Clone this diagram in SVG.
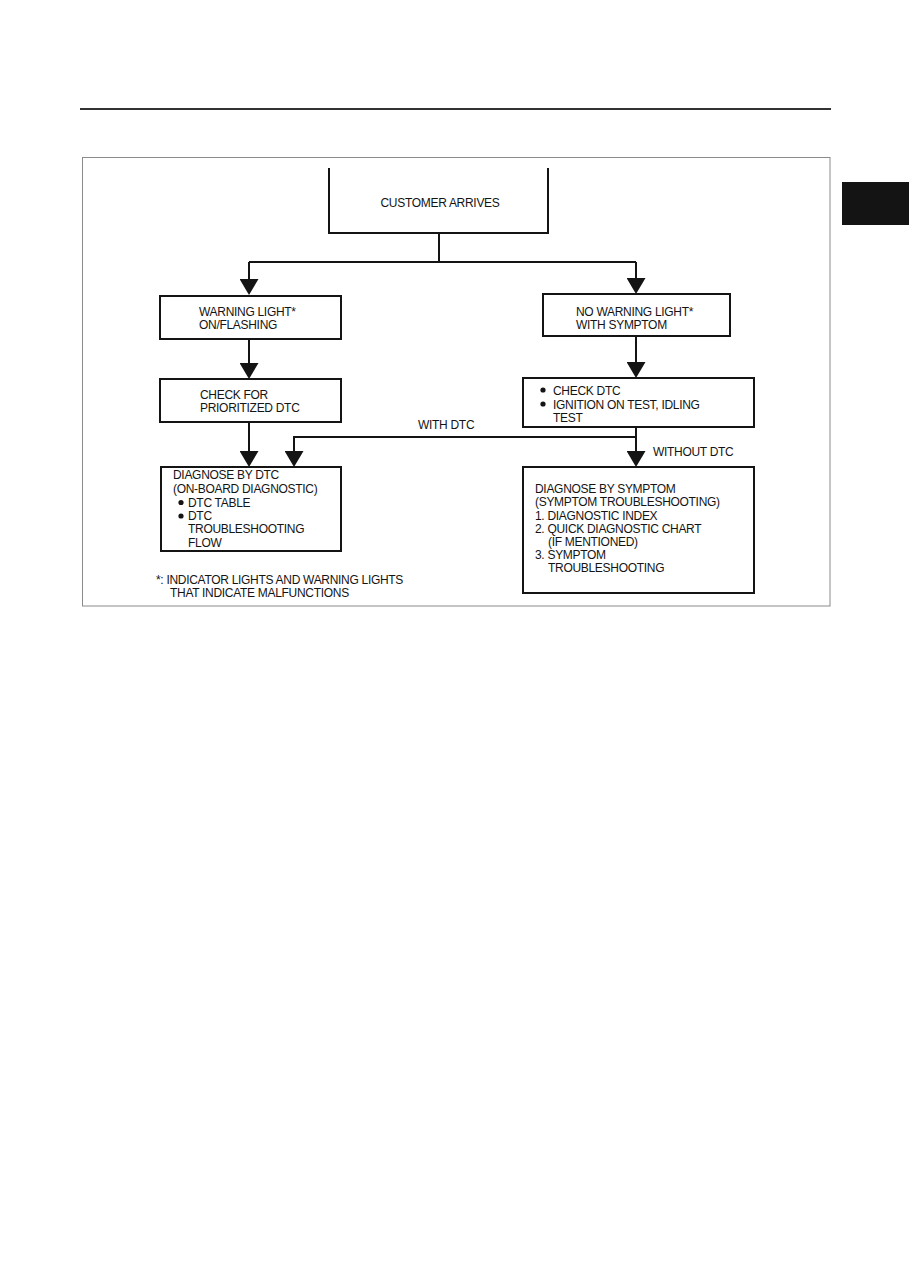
<svg xmlns="http://www.w3.org/2000/svg" width="909" height="1286" viewBox="0 0 909 1286">
<style>
.t{font-family:"Liberation Sans",Arial,sans-serif;font-size:12px;letter-spacing:-0.3px;fill:#141414}
.box{fill:#fff;stroke:#141414;stroke-width:2}
.ln{fill:none;stroke:#141414;stroke-width:2}
.ah{fill:none;stroke:#141414;stroke-width:2;marker-end:url(#arr)}
.dot{fill:#141414}
</style>
<defs>
<marker id="arr" markerUnits="userSpaceOnUse" markerWidth="16" markerHeight="19" refX="13" refY="9.5" orient="auto">
<path d="M0,0 L16,9.5 L0,19 Z" fill="#141414"/>
</marker>
</defs>
<rect width="909" height="1286" fill="#fff"/>
<line x1="80" y1="109" x2="831" y2="109" stroke="#333" stroke-width="2"/>
<rect x="82.5" y="157.5" width="747.5" height="448.5" fill="none" stroke="#8a8a8a" stroke-width="1"/>
<rect x="842" y="182" width="67" height="43" fill="#141414"/>

<g id="connectors">
<path class="ln" d="M439,233 V262"/>
<path class="ln" d="M249,262 H636"/>
<path class="ah" d="M249,262 V292"/>
<path class="ah" d="M636,262 V291"/>
<path class="ah" d="M249,339 V376"/>
<path class="ah" d="M636,336 V375"/>
<path class="ah" d="M249,422 V464"/>
<path class="ah" d="M636,427 V464"/>
<path class="ah" d="M636,437 H294 V464"/>
<text class="t" x="418" y="429">WITH DTC</text>
<text class="t" x="653" y="456">WITHOUT DTC</text>
</g>

<g id="customer">
<path class="ln" d="M329,168 V233 H548 V168"/>
<text class="t" x="440" y="207" text-anchor="middle">CUSTOMER ARRIVES</text>
</g>

<g id="warning">
<rect class="box" x="160" y="296" width="181" height="43"/>
<text class="t" x="199" y="316">WARNING LIGHT*</text>
<text class="t" x="199" y="329">ON/FLASHING</text>
</g>

<g id="nowarning">
<rect class="box" x="543" y="294" width="187" height="42"/>
<text class="t" x="576" y="316">NO WARNING LIGHT*</text>
<text class="t" x="576" y="329">WITH SYMPTOM</text>
</g>

<g id="checkfor">
<rect class="box" x="160" y="379" width="181" height="43"/>
<text class="t" x="200" y="399">CHECK FOR</text>
<text class="t" x="200" y="412">PRIORITIZED DTC</text>
</g>

<g id="checkdtc">
<rect class="box" x="523" y="378" width="231" height="49"/>
<circle class="dot" cx="543" cy="390" r="2.6"/>
<text class="t" x="553" y="394.5">CHECK DTC</text>
<circle class="dot" cx="543" cy="404" r="2.6"/>
<text class="t" x="553" y="408.5">IGNITION ON TEST, IDLING</text>
<text class="t" x="553" y="422">TEST</text>
</g>

<g id="diagdtc">
<rect class="box" x="161" y="467" width="180" height="84"/>
<text class="t" x="173" y="479">DIAGNOSE BY DTC</text>
<text class="t" x="173" y="493">(ON-BOARD DIAGNOSTIC)</text>
<circle class="dot" cx="181" cy="502.5" r="2.6"/>
<text class="t" x="188" y="506.5">DTC TABLE</text>
<circle class="dot" cx="181" cy="516" r="2.6"/>
<text class="t" x="188" y="520">DTC</text>
<text class="t" x="188" y="533">TROUBLESHOOTING</text>
<text class="t" x="188" y="546.5">FLOW</text>
</g>

<g id="diagsymptom">
<rect class="box" x="523" y="467" width="231" height="126"/>
<text class="t" x="535" y="493">DIAGNOSE BY SYMPTOM</text>
<text class="t" x="535" y="506">(SYMPTOM TROUBLESHOOTING)</text>
<text class="t" x="535" y="519.5">1. DIAGNOSTIC INDEX</text>
<text class="t" x="535" y="533">2. QUICK DIAGNOSTIC CHART</text>
<text class="t" x="548" y="546">(IF MENTIONED)</text>
<text class="t" x="535" y="559">3. SYMPTOM</text>
<text class="t" x="548" y="572">TROUBLESHOOTING</text>
</g>

<g id="footnote">
<text class="t" x="156" y="584">*: INDICATOR LIGHTS AND WARNING LIGHTS</text>
<text class="t" x="170" y="597">THAT INDICATE MALFUNCTIONS</text>
</g>
</svg>
